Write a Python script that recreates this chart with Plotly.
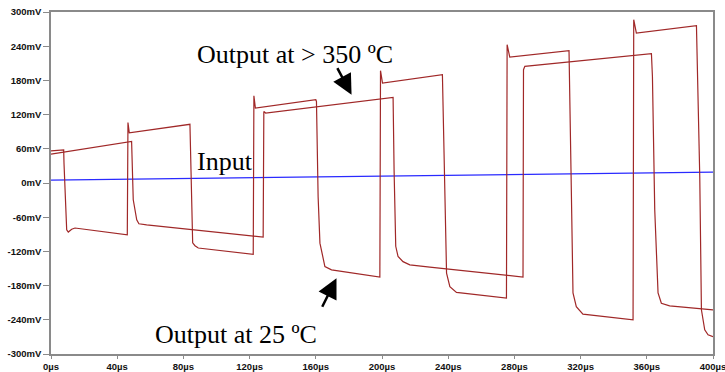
import plotly.graph_objects as go

# ---- data (time in µs, voltage in mV) ----
# Output at 25 ºC (faster square wave)
out25_t = [0, 7.67, 7.85, 8.88, 9.48, 10.45, 12.5, 14.5, 46.1, 46.5, 47.3,
           83.95, 84.6, 85.6, 87.0, 89.0, 122.2, 122.6, 123.5,
           160.0, 160.4, 161.4, 162.5, 165.5, 169.5, 198.7, 199.1, 200.3,
           236.5, 237.5, 239.0, 241.0, 245.0, 275.2, 275.6, 277.2,
           313.0, 314.2, 315.4, 317.4, 321.4, 351.7, 352.1, 353.7,
           390.0, 392.0, 393.0, 395.0, 397.0, 400.0]
out25_v = [56.5, 58, 35, -53, -82, -86, -81, -79, -91, 106, 88,
           103, 20, -105, -110, -114, -125, 153, 131.5,
           146, 143, -24, -105.5, -146.6, -152.4, -165, 197, 175.4,
           190, 29, -158, -182, -192, -202, 242.7, 221,
           232, 23, -193, -217, -230, -240, 286.6, 263,
           276, 11.4, -222.5, -257.6, -266.4, -269.5]

# Output at > 350 ºC (slower square wave)
out350_t = [0, 48.7, 49.7, 51.8, 53.1, 57.8, 128.2, 128.6, 129.7,
            206.7, 207.3, 208.3, 209.7, 212.7, 216.8, 228.9, 285.2, 285.5, 286.3,
            362.8, 363.4, 364.8, 366.8, 368.8, 373.8, 400.0]
out350_v = [50.7, 73, -29.5, -64.6, -71.6, -73.4, -95, 125.5, 122.7,
            150, 23, -111, -129, -138, -143.6, -147.7, -165, 198.8, 204.6,
            226.8, 187, -47, -193, -211, -215.6, -222.6]

# Input
input_t = [0, 400]
input_v = [5, 19]

# ticks
x_ticks = [0, 40, 80, 120, 160, 200, 240, 280, 320, 360, 400]
x_tick_labels = ["0µs", "40µs", "80µs", "120µs", "160µs", "200µs", "240µs",
                 "280µs", "320µs", "360µs", "400µs"]
y_ticks = [-300, -240, -180, -120, -60, 0, 60, 120, 180, 240, 300]
y_tick_labels = ["-300mV", "-240mV", "-180mV", "-120mV", "-60mV", "0mV",
                 "60mV", "120mV", "180mV", "240mV", "300mV"]

RED = "#a02828"
BLUE = "#2a2aff"

fig = go.Figure()
fig.add_trace(go.Scatter(x=input_t, y=input_v, mode="lines",
                         line=dict(color=BLUE, width=1.2), name="Input"))
fig.add_trace(go.Scatter(x=out25_t, y=out25_v, mode="lines",
                         line=dict(color=RED, width=1.2), name="Output at 25 ºC"))
fig.add_trace(go.Scatter(x=out350_t, y=out350_v, mode="lines",
                         line=dict(color=RED, width=1.2), name="Output at > 350 ºC"))

tickfont = dict(family="Liberation Sans", size=9.5, color="#111111", weight="bold")

fig.update_layout(
    width=725, height=372,
    margin=dict(l=51, r=12, t=12, b=18),
    paper_bgcolor="white", plot_bgcolor="white",
    showlegend=False,
    xaxis=dict(range=[0, 400], tickvals=x_ticks, ticktext=x_tick_labels,
               showgrid=False, zeroline=False, showline=True, mirror=True,
               linecolor="#8a8a8a", linewidth=1.5, ticks="outside", ticklen=3,
               tickcolor="#8a8a8a", tickfont=tickfont, automargin=False,
               ticklabeloverflow="allow"),
    yaxis=dict(range=[-300, 300], tickvals=y_ticks, ticktext=y_tick_labels,
               showgrid=False, zeroline=False, showline=True, mirror=True,
               linecolor="#8a8a8a", linewidth=1.5, ticks="outside", ticklen=6,
               tickcolor="#8a8a8a", tickfont=tickfont, automargin=False,
               ticklabeloverflow="allow"),
)

serif = dict(family="Liberation Serif", size=26, color="black")
fig.add_annotation(x=87.0, y=225, text="Output at > 350 ºC", showarrow=False,
                   xanchor="left", yanchor="middle", font=serif)
fig.add_annotation(x=87.0, y=37, text="Input", showarrow=False,
                   xanchor="left", yanchor="middle", font=serif)
fig.add_annotation(x=61.8, y=-266, text="Output at 25 ºC", showarrow=False,
                   xanchor="left", yanchor="middle", font=serif)
# arrows
fig.add_annotation(x=181.6, y=154.9, ax=-15, ay=-28, text="", showarrow=True,
                   arrowhead=2, arrowsize=1.6, arrowwidth=2.5, arrowcolor="black",
                   standoff=0)
fig.add_annotation(x=172.5, y=-167, ax=-15, ay=30, text="", showarrow=True,
                   arrowhead=2, arrowsize=1.6, arrowwidth=2.5, arrowcolor="black",
                   standoff=0)

fig.write_html("out.html")
